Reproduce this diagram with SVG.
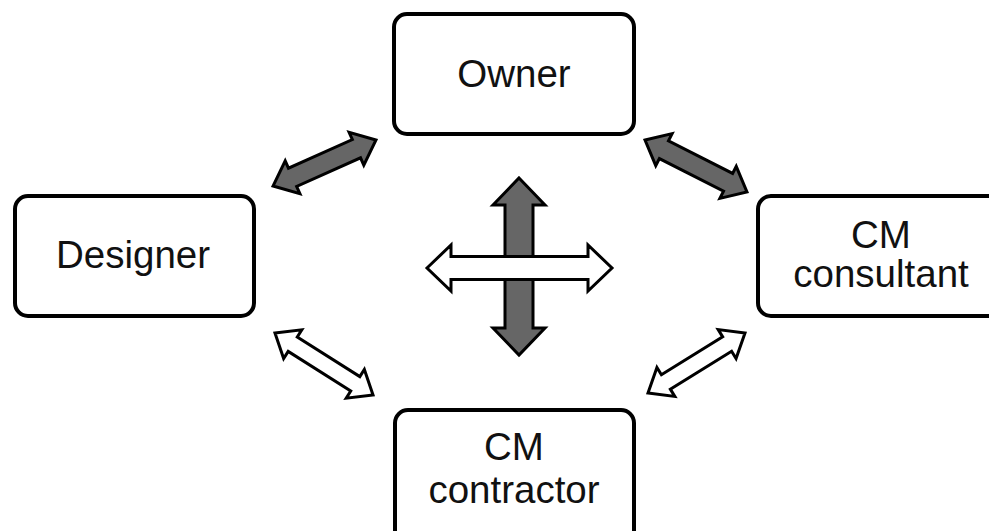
<svg xmlns="http://www.w3.org/2000/svg" width="989" height="531" viewBox="0 0 989 531">
<style>
.box{fill:#fff;stroke:#000;stroke-width:4}
.t{font-family:"Liberation Sans",Arial,sans-serif;font-size:38.5px;fill:#111;text-anchor:middle}
.dark{fill:#666;stroke:#000;stroke-width:3;stroke-linejoin:miter}
.light{fill:#fff;stroke:#000;stroke-width:3;stroke-linejoin:miter}
</style>
<rect width="989" height="531" fill="#fff"/>
<g id="connectors">
<polygon class="dark" transform="translate(324.5,163) rotate(-24.1)" points="-56.4,0 -35,-18 -35,-10 35,-10 35,-18 56.4,0 35,18 35,10 -35,10 -35,18"/>
<polygon class="dark" transform="translate(696,166) rotate(27)" points="-57.2,0 -36,-18 -36,-10 36,-10 36,-18 57.2,0 36,18 36,10 -36,10 -36,18"/>
<polygon class="light" transform="translate(324,364) rotate(32.3)" points="-58,0 -37,-17 -37,-8.5 37,-8.5 37,-17 58,0 37,17 37,8.5 -37,8.5 -37,17"/>
<polygon class="light" transform="translate(696.5,363) rotate(-31.7)" points="-57,0 -36,-17 -36,-8.5 36,-8.5 36,-17 57,0 36,17 36,8.5 -36,8.5 -36,17"/>
<polygon class="dark" points="519,178 545,205 533,205 533,328 545,328 519,355 493,328 505,328 505,205 493,205"/>
<polygon class="light" points="427,268 451,245 451,256.5 588,256.5 588,245 612,268 588,291 588,279.5 451,279.5 451,291"/>
</g>
<g id="owner">
<rect class="box" x="394" y="14" width="240" height="120" rx="13"/>
<text class="t" x="514" y="87">Owner</text>
</g>
<g id="designer">
<rect class="box" x="15" y="196" width="239" height="120" rx="13"/>
<text class="t" x="133" y="268">Designer</text>
</g>
<g id="cm-consultant">
<rect class="box" x="758" y="196" width="245" height="120" rx="13"/>
<text class="t" x="881" y="248">CM</text>
<text class="t" x="881" y="287">consultant</text>
</g>
<g id="cm-contractor">
<rect class="box" x="395" y="410" width="239" height="135" rx="13"/>
<text class="t" x="514" y="460">CM</text>
<text class="t" x="514" y="503">contractor</text>
</g>
</svg>
